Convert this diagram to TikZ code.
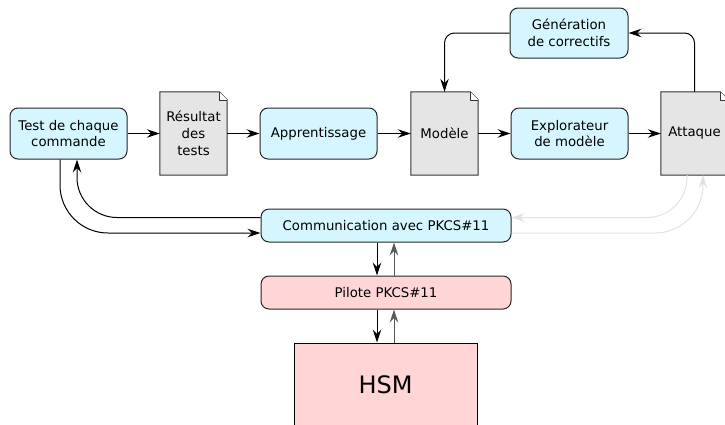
\documentclass[tikz,border=0pt]{standalone}
\usepackage{fontspec}
\setmainfont{DejaVu Sans}
\usetikzlibrary{arrows.meta,backgrounds}
\definecolor{boxblue}{HTML}{D5F6FF}
\definecolor{boxpink}{HTML}{FFD5D5}
\definecolor{docgray}{HTML}{E5E5E5}
\definecolor{faint}{HTML}{E2E2E2}
\tikzset{
	bluebox/.style={draw=black!85, line width=1pt, fill=boxblue, rounded corners=8pt, align=center, inner sep=0pt, minimum width=117pt, minimum height=51pt},
	pinkbox/.style={draw=black!85, line width=1pt, fill=boxpink, rounded corners=8pt, align=center, inner sep=0pt, minimum width=250pt, minimum height=33pt},
	docbox/.style={align=center, inner sep=0pt, minimum width=67pt, minimum height=83pt},
	link/.style={-{Stealth[length=13pt,width=8.5pt,inset=4.5pt]}, line width=1pt},
	uplink/.style={link, draw=black!65},
	fadedlink/.style={link, draw=faint},
}
\begin{document}
\begin{tikzpicture}[x=1pt, y=-1pt, font=\fontsize{13.3pt}{16.8pt}\selectfont]
		\useasboundingbox (0,0) rectangle (725,424);
		\node[bluebox] (test) at (68.5,133.5) {Test de chaque\\commande};
		\node[docbox] (res) at (193.5,133.5) {Résultat\\des\\tests};
		\node[bluebox] (app) at (318.5,133.5) {Apprentissage};
		\node[docbox] (mod) at (444.5,133.5) {Modèle};
		\node[bluebox] (exp) at (569.5,133.5) {Explorateur\\de modèle};
		\node[docbox] (att) at (694.5,133.5) {Attaque};
		\node[bluebox, minimum width=118pt, minimum height=50pt] (gen) at (569,33) {Génération\\de correctifs};
		\node[bluebox, minimum width=250pt, minimum height=33pt] (comm) at (386,225.5) {Communication avec PKCS\#11};
		\node[pinkbox] (pil) at (386,292.5) {Pilote PKCS\#11};
		\node[pinkbox, rounded corners=0pt, draw=black, minimum width=183pt, minimum height=84pt, font=\fontsize{24pt}{28pt}\selectfont] (hsm) at (385.5,385) {HSM};
		\begin{scope}[on background layer]
			\foreach \d in {res,mod,att} {
				\draw[fill=docgray, draw=black!80, line width=1pt] (\d.south west) -- (\d.north west) -- ([xshift=-8pt]\d.north east) -- ([yshift=-8pt]\d.north east) -- (\d.south east) -- cycle;
				\draw[fill=white, draw=black!80, line width=0.6pt, line join=round] ([xshift=-8pt]\d.north east) -- ([xshift=-8pt,yshift=-8pt]\d.north east) -- ([yshift=-8pt]\d.north east);
			}
		\end{scope}
		\draw[link] (test) -- (res);
		\draw[link] (res) -- (app);
		\draw[link] (app) -- (mod);
		\draw[link] (mod) -- (exp);
		\draw[link] (exp) -- (att);
		\draw[link, rounded corners=10pt] (gen.west) -| (mod.north);
		\draw[link, rounded corners=10pt] (att.north) |- (gen.east);
		\draw[link, rounded corners=48pt] ([xshift=-8.5pt]test.south) |- ([yshift=-7.5pt]comm.west);
		\draw[link, rounded corners=40pt] ([yshift=8pt]comm.west) -| ([xshift=8.5pt]test.south);
		\draw[fadedlink, rounded corners=40pt] ([xshift=-7.5pt]att.south) |- ([yshift=8pt]comm.east);
		\draw[fadedlink, rounded corners=48pt] ([yshift=-7.5pt]comm.east) -| ([xshift=8.5pt]att.south);
		\draw[link] ([xshift=-9pt]comm.south) -- ([xshift=-9pt]pil.north);
		\draw[uplink] ([xshift=8pt]pil.north) -- ([xshift=8pt]comm.south);
		\draw[link] ([xshift=-9pt]pil.south) -- ([xshift=-9pt]pil.south |- hsm.north);
		\draw[uplink] ([xshift=8pt]pil.south |- hsm.north) -- ([xshift=8pt]pil.south);
	\end{tikzpicture}
\end{document}
